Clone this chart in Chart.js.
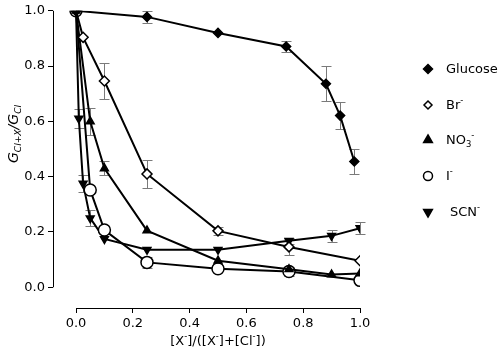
<!DOCTYPE html>
<html><head><meta charset="utf-8">
<script src="https://cdn.jsdelivr.net/npm/chart.js@4/dist/chart.umd.min.js"></script>
<style>html,body{margin:0;padding:0;background:#fff}#wrap{width:500px;height:356px;position:relative}canvas{display:block}</style>
</head><body><div id="wrap"><canvas id="c" width="500" height="356" style="width:500px;height:356px"></canvas></div>
<script>
// ---- data ----
const glucoseX=[0,0.25,0.5,0.74,0.88,0.93,0.98];
const glucoseY=[1.0,0.978,0.92,0.871,0.736,0.621,0.455];
const glucoseErr=[0,0.021,0,0.02,0.064,0.05,0.045];
const brX=[0,0.025,0.1,0.25,0.5,0.75,1.0];
const brY=[1.0,0.904,0.746,0.41,0.204,0.146,0.096];
const brErr=[0,0,0.065,0.05,0.015,0.03,0];
const no3X=[0,0.05,0.1,0.25,0.5,0.75,0.9,1.0];
const no3Y=[1.0,0.60,0.43,0.205,0.096,0.065,0.046,0.05];
const no3Err=[0,0.05,0.025,0,0,0,0,0];
const iX=[0,0.05,0.1,0.25,0.5,0.75,1.0];
const iY=[1.0,0.352,0.207,0.09,0.067,0.057,0.025];
const iErr=[0,0,0.015,0.02,0,0.015,0];
const scnX=[0,0.01,0.025,0.05,0.1,0.25,0.5,0.75,0.9,1.0];
const scnY=[1.0,0.61,0.375,0.25,0.175,0.136,0.136,0.168,0.186,0.214];
const scnErr=[0,0.035,0.03,0.03,0,0,0,0.01,0.022,0.022];
const xTicks=[0,0.2,0.4,0.6,0.8,1.0];
const yTicks=[0,0.2,0.4,0.6,0.8,1.0];
const seriesNames=['Glucose','Br','NO3','I','SCN'];

const FONT='"DejaVu Sans", sans-serif';
function pts(xs,ys){return xs.map((x,i)=>({x:x,y:ys[i]}));}

function mk(label,xs,ys,err,style,radius,fill,rot){
  return {label:label,data:pts(xs,ys),err:err,showLine:true,borderColor:'#000',borderWidth:2,
    pointStyle:style,pointRadius:radius,pointHoverRadius:radius,pointBackgroundColor:fill,
    pointBorderColor:'#000',pointBorderWidth:1.5,pointRotation:rot||0,tension:0};
}

function richWidth(ctx,parts,size,italic){
  let w=0;
  parts.forEach(p=>{const s=p[1]==='n'?size:size*0.65;ctx.font=(italic?'italic ':'')+s+'px '+FONT;w+=ctx.measureText(p[0]).width;});
  return w;
}
function drawRich(ctx,parts,x,y,size,align,italic){
  const w=richWidth(ctx,parts,size,italic);
  let cx = align==='center'? x-w/2 : (align==='right'? x-w : x);
  ctx.textBaseline='middle';ctx.textAlign='left';
  parts.forEach(p=>{
    const s=p[1]==='n'?size:size*0.65;
    ctx.font=(italic?'italic ':'')+s+'px '+FONT;
    const dy=p[1]==='sup'?-size*0.38:(p[1]==='sub'?size*0.3:0);
    ctx.fillText(p[0],cx,y+dy);
    cx+=ctx.measureText(p[0]).width;
  });
}
function marker(ctx,style,x,y,r,fill){
  ctx.beginPath();
  if(style==='diamond'){ctx.moveTo(x,y-r);ctx.lineTo(x+r,y);ctx.lineTo(x,y+r);ctx.lineTo(x-r,y);ctx.closePath();}
  else if(style==='tri'){ctx.moveTo(x,y-r);ctx.lineTo(x+r*0.87,y+r*0.5);ctx.lineTo(x-r*0.87,y+r*0.5);ctx.closePath();}
  else if(style==='itri'){ctx.moveTo(x,y+r);ctx.lineTo(x+r*0.87,y-r*0.5);ctx.lineTo(x-r*0.87,y-r*0.5);ctx.closePath();}
  else {ctx.arc(x,y,r,0,Math.PI*2);}
  ctx.fillStyle=fill;ctx.fill();ctx.lineWidth=1.5;ctx.strokeStyle='#000';ctx.stroke();
}

const errPlugin={id:'errbars',beforeDatasetsDraw(chart){
  const ctx=chart.ctx,xs=chart.scales.x,ys=chart.scales.y;
  ctx.save();ctx.strokeStyle='#7a7a7a';ctx.lineWidth=1;
  chart.data.datasets.forEach(ds=>{ds.data.forEach((p,i)=>{
    const e=ds.err[i];if(!e)return;
    const px=Math.round(xs.getPixelForValue(p.x))+0.5;
    const y1=Math.round(ys.getPixelForValue(p.y+e))+0.5,y2=Math.round(ys.getPixelForValue(p.y-e))+0.5;
    ctx.beginPath();ctx.moveTo(px,y1);ctx.lineTo(px,y2);
    ctx.moveTo(px-5,y1);ctx.lineTo(px+5,y1);ctx.moveTo(px-5,y2);ctx.lineTo(px+5,y2);ctx.stroke();
  });});
  ctx.restore();
}};

const axesPlugin={id:'axesText',afterDraw(chart){
  const ctx=chart.ctx,xs=chart.scales.x,ys=chart.scales.y,ca=chart.chartArea;
  ctx.save();
  ctx.strokeStyle='#000';ctx.lineWidth=1;
  const ax=Math.round(ca.left)+0.5;
  ctx.beginPath();ctx.moveTo(ax,ys.getPixelForValue(yTicks[0]));ctx.lineTo(ax,ys.getPixelForValue(yTicks[yTicks.length-1]));ctx.stroke();
  const ay=Math.round(ca.bottom)+0.5;
  ctx.beginPath();ctx.moveTo(xs.getPixelForValue(xTicks[0]),ay);ctx.lineTo(xs.getPixelForValue(xTicks[xTicks.length-1]),ay);ctx.stroke();
  ctx.fillStyle='#000';
  drawRich(ctx,[['[X','n'],['-','sup'],[']/([X','n'],['-','sup'],[']+[Cl','n'],['-','sup'],['])','n']],
    (xs.getPixelForValue(0)+xs.getPixelForValue(1))/2,342,13,'center',false);
  ctx.save();ctx.translate(14,134);ctx.rotate(-Math.PI/2);
  drawRich(ctx,[['G','n'],['Cl+X','sub'],['/G','n'],['Cl','sub']],0,0,14,'center',true);
  ctx.restore();
  const items=[
    {s:'diamond',f:'#000',r:4.5,y:69,t:[['Glucose','n']],tx:446},
    {s:'diamond',f:'#fff',r:4,y:105,t:[['Br','n'],['-','sup']],tx:446},
    {s:'tri',f:'#000',r:5,y:140,t:[['NO','n'],['3','sub'],['-','sup']],tx:446},
    {s:'circle',f:'#fff',r:4.5,y:176,t:[['I','n'],['-','sup']],tx:446},
    {s:'itri',f:'#000',r:5,y:212,t:[['SCN','n'],['-','sup']],tx:450}
  ];
  items.forEach(it=>{marker(ctx,it.s,428,it.y,it.r,it.f);ctx.fillStyle='#000';drawRich(ctx,it.t,it.tx,it.y+1,13,'left',false);});
  ctx.restore();
}};

new Chart(document.getElementById('c'),{
  type:'scatter',
  data:{datasets:[
    mk(seriesNames[0],glucoseX,glucoseY,glucoseErr,'rectRot',4.5,'#000'),
    mk(seriesNames[1],brX,brY,brErr,'rectRot',5,'#fff'),
    mk(seriesNames[2],no3X,no3Y,no3Err,'triangle',4.5,'#000'),
    mk(seriesNames[3],iX,iY,iErr,'circle',6,'#fff'),
    mk(seriesNames[4],scnX,scnY,scnErr,'triangle',4.5,'#000',180)
  ]},
  options:{
    responsive:false,animation:false,devicePixelRatio:1,
    layout:{padding:{top:7,right:140,left:0,bottom:0}},
    plugins:{legend:{display:false},tooltip:{enabled:false}},
    scales:{
      x:{type:'linear',min:-0.081,max:1.0,
        afterBuildTicks(s){s.ticks=xTicks.map(v=>({value:v}));},
        afterFit(s){s.height=48;},
        grid:{display:true,drawOnChartArea:false,drawTicks:true,tickLength:5,color:'#000'},
        border:{display:false},
        ticks:{color:'#000',font:{family:FONT,size:13},padding:3,maxRotation:0,autoSkip:false,callback:v=>v.toFixed(1)}},
      y:{type:'linear',min:-0.075,max:1.0,
        afterBuildTicks(s){s.ticks=yTicks.map(v=>({value:v}));},
        afterFit(s){s.width=53;},
        grid:{display:true,drawOnChartArea:false,drawTicks:true,tickLength:5,color:'#000'},
        border:{display:false},
        ticks:{color:'#000',font:{family:FONT,size:13},padding:3,autoSkip:false,callback:v=>v.toFixed(1)}}
    }
  },
  plugins:[errPlugin,axesPlugin]
});
</script>
</body></html>
